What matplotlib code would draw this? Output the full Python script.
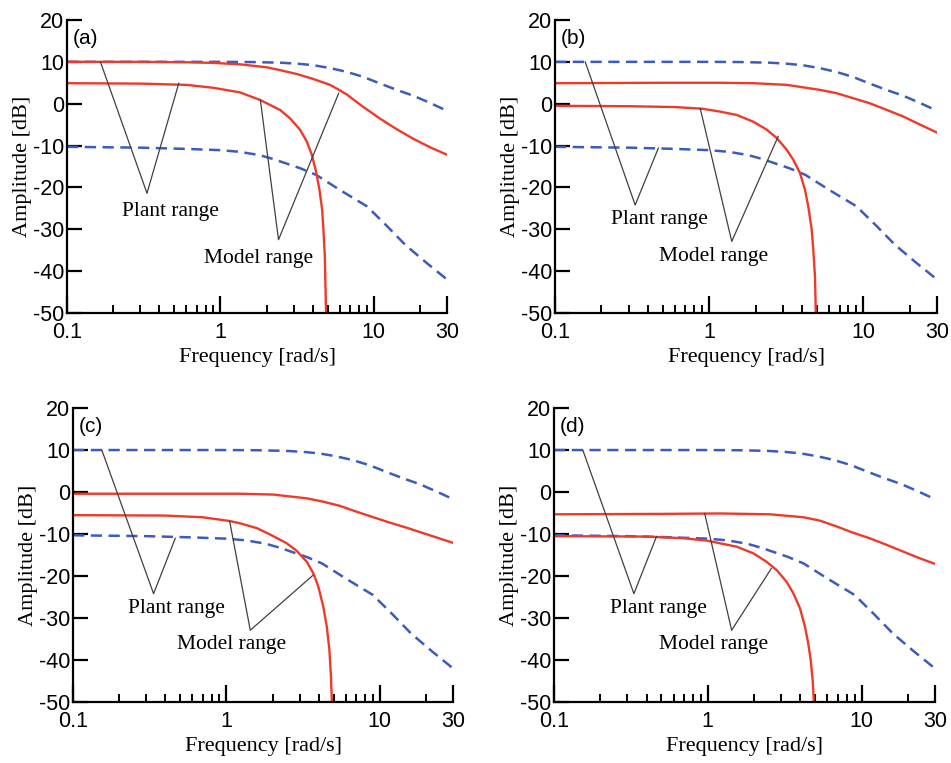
import matplotlib
matplotlib.use("Agg")
import matplotlib.pyplot as plt

plt.rcParams['axes.unicode_minus'] = False

# plant bounds (same in every panel)
plant_up_f = [0.1, 0.5, 1, 1.6, 2.46, 3.2, 4.03, 5.2, 6.66, 8.55, 11, 14.1, 18.1, 23.2, 30]
plant_up_db = [10, 10, 10, 9.95, 9.8, 9.55, 9.2, 8.5, 7.6, 6.4, 4.8, 3.3, 1.9, 0.2, -1.7]
plant_lo_f = [0.1, 0.3, 0.6, 1, 1.34, 1.8, 2.2, 3.3, 4.2, 6, 9, 12, 16, 22, 30]
plant_lo_db = [-10.3, -10.5, -10.8, -11.1, -11.5, -12.3, -13.2, -15.4, -17, -20.6,
               -24.5, -29, -33.7, -38, -42]

# model bounds, one pair per panel
a_up_f = [0.1, 0.3, 0.6, 0.9, 1.35, 2.0, 2.46, 3.14, 4.03, 5.18, 5.87, 6.66,
          8.55, 11.0, 14.1, 18.1, 23.2, 30]
a_up_db = [10, 10, 9.9, 9.75, 9.4, 8.7, 8.0, 7.1, 5.9, 4.5, 3.4, 2.2,
           -0.8, -3.6, -6.1, -8.4, -10.4, -12.2]
a_lo_f = [0.1, 0.3, 0.6, 0.9, 1.34, 1.81, 2.45, 2.84, 3.30, 3.65, 3.94, 4.20,
          4.42, 4.60, 4.69, 4.79, 4.83, 4.88]
a_lo_db = [4.9, 4.8, 4.5, 3.8, 2.7, 0.9, -1.5, -3.5, -6.2, -9.0, -12.2, -16.2,
           -20.6, -25.3, -30.1, -36.5, -42.8, -50]

b_up_f = [0.1, 0.5, 1.18, 1.93, 3.18, 5.23, 6.71, 8.6, 11.0, 14.2, 18.2, 23.3, 30]
b_up_db = [4.9, 5.0, 5.0, 4.9, 4.5, 3.3, 2.5, 1.3, 0.1, -1.5, -3.1, -5.0, -6.9]
b_lo_f = [0.1, 0.3, 0.6, 0.9, 1.18, 1.51, 1.93, 2.36, 2.74, 3.18, 3.51, 3.88,
          4.18, 4.39, 4.62, 4.73, 4.85, 4.91]
b_lo_db = [-0.5, -0.6, -0.8, -1.2, -1.9, -2.7, -4.3, -6.2, -8.2, -11.0, -13.4, -16.6,
           -20.6, -24.6, -30.1, -34.9, -41.3, -50]

c_up_f = [0.1, 0.5, 1.23, 2.02, 3.34, 4.28, 5.5, 7.07, 9.07, 11.65, 14.96, 19.2, 30]
c_up_db = [-0.4, -0.4, -0.4, -0.6, -1.5, -2.3, -3.3, -4.7, -6.0, -7.3, -8.5, -9.8, -12.1]
c_lo_f = [0.1, 0.4, 0.7, 1.05, 1.23, 1.58, 2.02, 2.47, 2.87, 3.34, 3.69, 3.97,
          4.28, 4.51, 4.69, 4.80, 4.87]
c_lo_db = [-5.5, -5.6, -6.0, -6.9, -7.45, -8.6, -10.5, -12.2, -14.0, -16.6, -19.4, -22.5,
           -27.3, -32.1, -37.6, -43.9, -50]

d_up_f = [0.1, 0.5, 1.2, 2.54, 4.18, 5.36, 6.89, 8.83, 11.3, 14.6, 18.7, 24.0, 30]
d_up_db = [-5.3, -5.2, -5.1, -5.3, -6.0, -6.8, -8.2, -9.7, -11.0, -12.6, -14.2, -15.8, -17.1]
d_lo_f = [0.1, 0.4, 0.7, 1.0, 1.2, 1.54, 1.98, 2.41, 2.81, 3.26, 3.6, 3.98,
          4.29, 4.50, 4.67, 4.81, 4.90]
d_lo_db = [-10.5, -10.6, -11.0, -11.6, -12.2, -13.0, -14.6, -16.6, -18.6, -21.4, -24.1, -27.7,
           -32.1, -36.0, -40.0, -44.8, -50]

# callout V-lines and text spots (frequency, dB)
a_plant_v = ([0.165, 0.332, 0.535], [10, -21.4, 4.9])
a_model_v = ([1.82, 2.39, 5.9], [0.9, -32.5, 2.5])
b_plant_v = ([0.157, 0.331, 0.468], [10, -24.2, -10.6])
b_model_v = ([0.874, 1.40, 2.8], [-1.1, -32.9, -7.8])
c_plant_v = ([0.154, 0.335, 0.464], [10, -24.2, -11.0])
c_model_v = ([1.05, 1.43, 3.67], [-7.0, -32.9, -19.8])
d_plant_v = ([0.154, 0.331, 0.464], [10, -24.2, -10.6])
d_model_v = ([0.955, 1.43, 2.59], [-5.1, -32.9, -18.2])
a_txt = [(0.472, -25.7), (1.78, -36.9)]
b_txt = [(0.475, -27.7), (1.07, -36.5)]
c_txt = [(0.474, -27.7), (1.08, -36.4)]
d_txt = [(0.476, -27.7), (1.09, -36.4)]

RED = '#ee3a2a'
BLUE = '#3d5bbd'
SERIF = 'Liberation Serif'
SANS = 'Liberation Sans'

panels = [
    ('(a)', [0.0705, 0.5898, 0.3996, 0.384], a_up_f, a_up_db, a_lo_f, a_lo_db, a_plant_v, a_model_v, a_txt),
    ('(b)', [0.5836, 0.5898, 0.4017, 0.384], b_up_f, b_up_db, b_lo_f, b_lo_db, b_plant_v, b_model_v, b_txt),
    ('(c)', [0.0768, 0.0799, 0.3996, 0.3853], c_up_f, c_up_db, c_lo_f, c_lo_db, c_plant_v, c_model_v, c_txt),
    ('(d)', [0.5825, 0.0799, 0.4006, 0.3853], d_up_f, d_up_db, d_lo_f, d_lo_db, d_plant_v, d_model_v, d_txt),
]

fig = plt.figure(figsize=(9.51, 7.63), dpi=100)

for tag, pos, uf, ud, lf, ld, pv, mv, txt in panels:
    ax = fig.add_axes(pos)
    ax.set_xscale('log')

    ax.plot(plant_up_f, plant_up_db, color=BLUE, lw=1.8, ls=(0, (4.5, 2.6)))
    ax.plot(plant_lo_f, plant_lo_db, color=BLUE, lw=1.8, ls=(0, (4.5, 2.6)))
    ax.plot(uf, ud, color=RED, lw=1.7)
    ax.plot(lf, ld, color=RED, lw=1.7)

    ax.plot(pv[0], pv[1], color='#404040', lw=0.9)
    ax.plot(mv[0], mv[1], color='#404040', lw=0.9)
    ax.text(txt[0][0], txt[0][1], 'Plant range', family=SERIF, fontsize=15.5,
            ha='center', va='center')
    ax.text(txt[1][0], txt[1][1], 'Model range', family=SERIF, fontsize=15.5,
            ha='center', va='center')
    ax.text(0.015, 0.937, tag, transform=ax.transAxes, family=SANS, fontsize=15,
            ha='left', va='center')

    ax.set_xlim(0.1, 30)
    ax.set_ylim(-50, 20)
    ax.set_xticks([0.1, 1, 10, 30])
    ax.set_xticklabels(['0.1', '1', '10', '30'])
    ax.set_xticks([0.2, 0.3, 0.4, 0.5, 0.6, 0.7, 0.8, 0.9,
                   2, 3, 4, 5, 6, 7, 8, 9, 20], minor=True)
    ax.set_yticks([20, 10, 0, -10, -20, -30, -40, -50])

    for s in ('top', 'right'):
        ax.spines[s].set_visible(False)
    for s in ('left', 'bottom'):
        ax.spines[s].set_linewidth(1.6)

    ax.tick_params(axis='x', which='major', direction='in', length=12, width=1.6,
                   pad=6.5, labelsize=15.5)
    ax.tick_params(axis='x', which='minor', direction='in', length=6, width=1.4)
    ax.tick_params(axis='y', which='major', direction='in', length=11, width=1.6,
                   pad=2, labelsize=15.5)
    for lab in ax.get_xticklabels() + ax.get_yticklabels():
        lab.set_family(SANS)

    ax.set_xlabel('Frequency [rad/s]', family=SERIF, fontsize=16, va='top')
    ax.set_ylabel('Amplitude [dB]', family=SERIF, fontsize=16, va='top')
    ax.xaxis.set_label_coords(0.5, -0.12)
    ax.yaxis.set_label_coords(-0.142, 0.5)

fig.savefig('out.png', dpi=100)
